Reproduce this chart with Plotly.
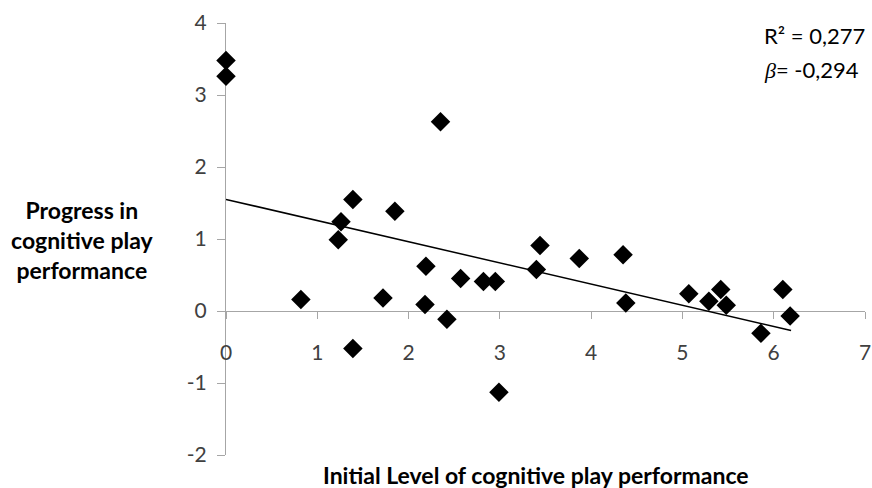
import plotly.graph_objects as go

# Data
initial_level = [0.00, 0.00, 2.35, 1.39, 1.85, 1.26, 1.23, 3.44, 3.87, 2.19,
                 3.40, 2.57, 2.82, 2.95, 0.82, 1.72, 2.18, 2.42, 1.39, 2.99,
                 4.35, 4.38, 5.07, 5.29, 5.42, 5.48, 6.10, 6.18, 5.86]
progress = [3.48, 3.26, 2.63, 1.55, 1.385, 1.24, 0.99, 0.91, 0.73, 0.62,
            0.575, 0.45, 0.41, 0.41, 0.16, 0.18, 0.09, -0.115, -0.52, -1.13,
            0.78, 0.11, 0.24, 0.135, 0.30, 0.08, 0.30, -0.07, -0.31]

trend_intercept = 1.55
trend_slope = -0.294
trend_x = [0.0, 6.19]
trend_y = [trend_intercept + trend_slope * x for x in trend_x]

x_ticks = [0, 1, 2, 3, 4, 5, 6, 7]
x_tick_labels = ["0", "1", "2", "3", "4", "5", "6", "7"]
y_ticks = [-2, -1, 0, 1, 2, 3, 4]
y_tick_labels = ["-2", "-1", "0", "1", "2", "3", "4"]

FONT = "Lato"
TICK_COLOR = "#404040"
AXIS_COLOR = "#a6a6a6"

fig = go.Figure()
fig.add_trace(go.Scatter(
    x=trend_x, y=trend_y, mode="lines",
    line=dict(color="black", width=1.5),
    hoverinfo="skip", showlegend=False, cliponaxis=False,
))
fig.add_trace(go.Scatter(
    x=initial_level, y=progress, mode="markers",
    marker=dict(symbol="diamond", size=15, color="black"),
    showlegend=False, cliponaxis=False,
))

fig.update_layout(
    width=872, height=488,
    margin=dict(l=226, r=7, t=23, b=33),
    paper_bgcolor="white", plot_bgcolor="white",
    font=dict(family=FONT, size=21, color=TICK_COLOR),
    xaxis=dict(
        range=[0, 7], tickvals=x_ticks, ticktext=x_tick_labels,
        showgrid=False, zeroline=False,
        showline=True, linecolor=AXIS_COLOR, linewidth=1.2,
        ticks="outside", ticklen=7, tickcolor=AXIS_COLOR,
        anchor="free", position=1/3, layer="below traces",
        ticklabelstandoff=16, automargin=False,
        tickfont=dict(family=FONT, size=21, color=TICK_COLOR),
    ),
    yaxis=dict(
        range=[-2, 4], tickvals=y_ticks, ticktext=y_tick_labels,
        showgrid=False, zeroline=False,
        showline=True, linecolor=AXIS_COLOR, linewidth=1.2,
        ticks="outside", ticklen=8, tickcolor=AXIS_COLOR,
        layer="below traces", ticklabelstandoff=6, automargin=False,
        tickfont=dict(family=FONT, size=21, color=TICK_COLOR),
    ),
    annotations=[
        dict(text="<b>Progress in<br>cognitive play<br>performance</b>",
             xref="paper", yref="paper", x=-0.224, y=0.498,
             xanchor="center", yanchor="middle", showarrow=False,
             font=dict(family=FONT, size=23, color="black")),
        dict(text="<b>Initial Level of cognitive play performance</b>",
             xref="paper", yref="paper", x=0.485, y=-0.046,
             xanchor="center", yanchor="middle", showarrow=False,
             font=dict(family=FONT, size=23, color="black")),
        dict(text="R² = 0,277",
             xref="paper", yref="paper", x=0.839, y=0.9715,
             xanchor="left", yanchor="middle", showarrow=False,
             font=dict(family=FONT, size=22, color="black")),
        dict(text="<span style='font-family:Liberation Serif'><i>β</i></span>= -0,294",
             xref="paper", yref="paper", x=0.839, y=0.893,
             xanchor="left", yanchor="middle", showarrow=False,
             font=dict(family=FONT, size=22, color="black")),
    ],
)

fig.write_html("out.html", config={"displayModeBar": False},
               post_script="document.body.style.margin='0px';")
